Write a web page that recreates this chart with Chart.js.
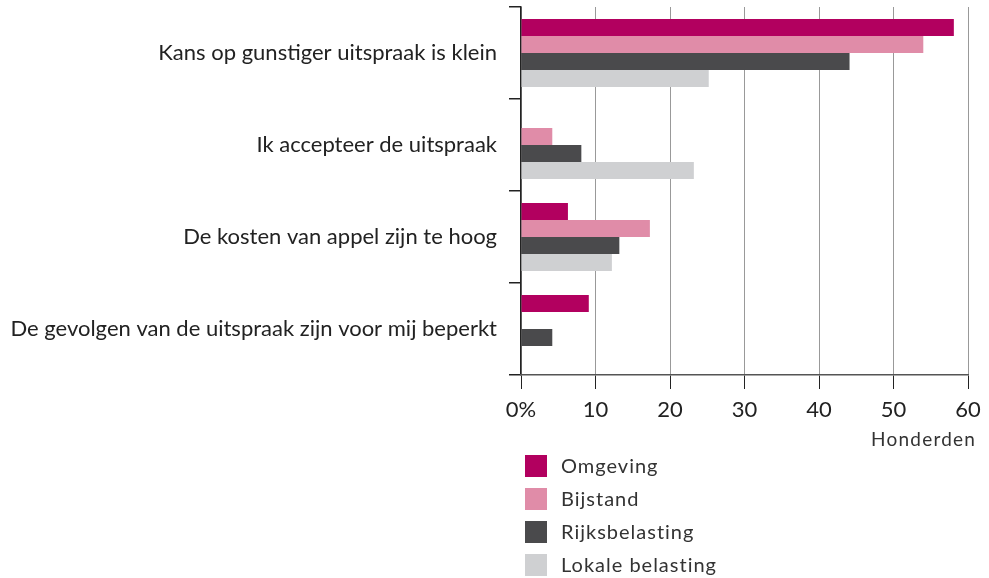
<!DOCTYPE html>
<html>
<head>
<meta charset="utf-8">
<script src="https://cdn.jsdelivr.net/npm/chart.js@4/dist/chart.umd.min.js"></script>
<style>
  html, body { margin: 0; padding: 0; background: #fff; }
  #wrap { width: 989px; height: 578px; }
</style>
</head>
<body>
<div id="wrap"><canvas id="chart" width="989" height="578"></canvas></div>
<script>
// data
const categories = [
    'Kans op gunstiger uitspraak is klein',
    'Ik accepteer de uitspraak',
    'De kosten van appel zijn te hoog',
    'De gevolgen van de uitspraak zijn voor mij beperkt'
];
const seriesNames = ['Omgeving', 'Bijstand', 'Rijksbelasting', 'Lokale belasting'];
const omgeving = [58.1, null, 6.3, 9.1];
const bijstand = [54, 4.2, 17.3, null];
const rijksbelasting = [44.1, 8.1, 13.2, 4.2];
const lokaleBelasting = [25.2, 23.2, 12.2, null];
const xTickLabels = ['0%', '10', '20', '30', '40', '50', '60'];
const unitLabel = 'Honderden';

const colors = ['#b2005f', '#e08ca8', '#4a4a4c', '#cfd0d2'];
const seriesValues = [omgeving, bijstand, rijksbelasting, lokaleBelasting];

const FONT = 'Lato, "Noto Sans", sans-serif';

// legend as a vertical list under the axis, plus the unit label
const sideLegend = {
    id: 'sideLegend',
    afterDraw(chart) {
        const ctx = chart.ctx;
        const area = chart.chartArea;
        ctx.save();
        ctx.fillStyle = '#333';
        ctx.textBaseline = 'middle';

        ctx.font = '19px ' + FONT;
        if ('letterSpacing' in ctx) ctx.letterSpacing = '1.2px';
        ctx.textAlign = 'right';
        ctx.fillText(unitLabel, 976, area.bottom + 65);

        ctx.font = '20px ' + FONT;
        if ('letterSpacing' in ctx) ctx.letterSpacing = '1px';
        ctx.textAlign = 'left';
        chart.data.datasets.forEach(function (ds, i) {
            const y = area.bottom + 80 + i * 33;
            ctx.fillStyle = ds.backgroundColor;
            ctx.fillRect(area.left + 4, y, 22, 22);
            ctx.fillStyle = '#333';
            ctx.fillText(ds.label, area.left + 40, y + 12);
        });
        ctx.restore();
    }
};

const config = {
    type: 'bar',
    data: {
        labels: categories,
        datasets: seriesNames.map(function (name, i) {
            return {
                label: name,
                data: seriesValues[i],
                backgroundColor: colors[i],
                borderWidth: 0,
                categoryPercentage: 0.74,
                barPercentage: 1.0
            };
        })
    },
    options: {
        indexAxis: 'y',
        responsive: false,
        devicePixelRatio: 1,
        animation: false,
        layout: {
            padding: { top: 7, right: 21, bottom: 123, left: 0 }
        },
        plugins: {
            legend: { display: false },
            tooltip: { enabled: false }
        },
        scales: {
            y: {
                grid: {
                    offset: true,
                    drawOnChartArea: false,
                    tickLength: 12,
                    color: '#222',
                    lineWidth: 1.5
                },
                border: { color: '#222', width: 1.5 },
                ticks: {
                    color: '#222',
                    padding: 12,
                    font: { family: FONT, size: 22 }
                },
                afterFit: function (scale) {
                    scale.width = 521;
                    scale.paddingTop = 0;
                    scale.paddingBottom = 0;
                }
            },
            x: {
                min: 0,
                max: 60,
                grid: {
                    color: '#999',
                    tickColor: '#222',
                    tickLength: 14,
                    lineWidth: 1
                },
                border: { color: '#555', width: 1.5 },
                ticks: {
                    stepSize: 10,
                    color: '#222',
                    padding: 8,
                    font: { family: FONT, size: 22 },
                    callback: function (value, index) { return xTickLabels[index]; }
                },
                afterFit: function (scale) { scale.height = 80; }
            }
        }
    },
    plugins: [sideLegend]
};

const chart = new Chart(document.getElementById('chart'), config);
</script>
</body>
</html>
